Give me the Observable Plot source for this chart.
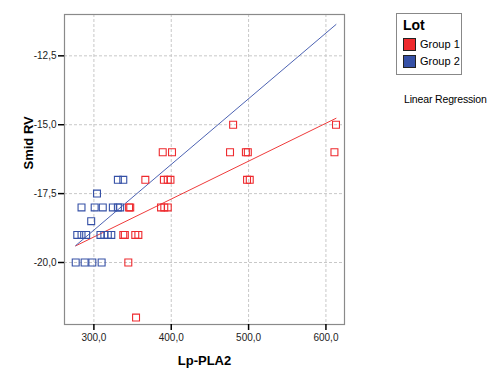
<!DOCTYPE html>
<html>
<head>
<meta charset="utf-8">
<script src="https://cdn.jsdelivr.net/npm/d3@7"></script>
<script src="https://cdn.jsdelivr.net/npm/@observablehq/plot@0.6"></script>
<style>
  html, body { margin: 0; padding: 0; background: #fff; overflow: hidden; width: 490px; height: 374px; }
  #wrap { position: relative; width: 490px; height: 374px; font-family: "Liberation Sans", Arial, sans-serif; }
  #legend { position: absolute; left: 396px; top: 13px; width: 64px; height: 60px; border: 1px solid #888; background: #fff; }
  #legend .title { position: absolute; left: 6px; top: 3px; font-weight: bold; font-size: 14px; color: #000; }
  #legend .item { position: absolute; left: 6px; font-size: 11px; color: #000; height: 13px; line-height: 13px; }
  #legend .sw { display: inline-block; width: 11px; height: 11px; border: 1px solid #222; vertical-align: top; margin-right: 4px; }
  #fitlabel { position: absolute; left: 404px; top: 93px; font-size: 10.5px; letter-spacing: -0.15px; white-space: nowrap; color: #000; }
</style>
</head>
<body>
<div id="wrap">
  <div id="chart"></div>
  <div id="legend"></div>
  <div id="fitlabel"></div>
</div>
<script>
// ---- data ----
const groups = ["Group 1", "Group 2"];
const colors = ["#ee2a2e", "#3550a6"];
const lineColors = ["#ef3b3b", "#4d63b3"];

const group1X = [480, 613, 389, 401, 476, 496.5, 499, 611, 366.5, 390.5, 395.5, 399, 498, 501.5, 345.5, 347, 386.8, 391, 395.5, 338, 340, 353.5, 357.5, 344.5, 354.5];
const group1Y = [-15, -15, -16, -16, -16, -16, -16, -16, -17, -17, -17, -17, -17, -17, -18, -18, -18, -18, -18, -19, -19, -19, -19, -20, -22];

const group2X = [331, 338, 304, 284, 301, 311.5, 324.5, 331, 334, 296.5, 278.5, 284, 290, 308.5, 313.5, 318, 322.5, 276.5, 288, 298, 310];
const group2Y = [-17, -17, -17.5, -18, -18, -18, -18, -18, -18, -18.5, -19, -19, -19, -19, -19, -19, -19, -20, -20, -20, -20];

// linear regression (total) lines as shown in the reference: intercept and slope per group
const fitIntercept = [-23.20, -25.975];
const fitSlope = [0.013757, 0.023836];

const xTicks = [300, 400, 500, 600];
const yTicks = [-12.5, -15, -17.5, -20];
const xLabel = "Lp-PLA2";
const yLabel = "Smid RV";
const legendTitle = "Lot";
const fitText = "Linear Regression";

// ---- build table ----
const points = [
  ...group1X.map((x, i) => ({x, y: group1Y[i], g: groups[0]})),
  ...group2X.map((x, i) => ({x, y: group2Y[i], g: groups[1]}))
];

// fit lines drawn across the full x extent of the data
const [xmin, xmax] = d3.extent(points, d => d.x);
const fitLines = groups.flatMap((g, i) => [xmin, xmax].map(x => ({x, y: fitIntercept[i] + fitSlope[i] * x, g})));

const fmt = v => d3.format(".1f")(v).replace("−", "-").replace(".", ",");

const chart = Plot.plot({
  width: 490,
  height: 374,
  marginLeft: 64,
  marginTop: 14,
  marginRight: 146,
  marginBottom: 50,
  style: {fontFamily: "'Liberation Sans', Arial, sans-serif", fontSize: "10px", color: "#000", background: "#fff"},
  x: {domain: [262, 624], ticks: xTicks, tickFormat: fmt, label: null},
  y: {domain: [-22.25, -11], ticks: yTicks, tickFormat: fmt, label: null},
  color: {domain: groups, range: colors},
  marks: [
    Plot.gridX(xTicks, {stroke: "#c8c8c8", strokeOpacity: 1, strokeDasharray: "3,2"}),
    Plot.gridY(yTicks, {stroke: "#c8c8c8", strokeOpacity: 1, strokeDasharray: "3,2"}),
    Plot.frame({stroke: "#8a8a8a", strokeWidth: 1.2}),
    Plot.axisX(xTicks, {tickFormat: fmt, tickSize: 6, tickPadding: 3, stroke: "#000", strokeWidth: 1.5, fontSize: 10, fill: "#222"}),
    Plot.axisY(yTicks, {tickFormat: fmt, tickSize: 6, tickPadding: 2, stroke: "#000", strokeWidth: 1.5, fontSize: 10, fill: "#222"}),
    Plot.line(fitLines, {x: "x", y: "y", z: "g", stroke: d => lineColors[groups.indexOf(d.g)], strokeWidth: 1}),
    Plot.dot(points, {x: "x", y: "y", symbol: "square", r: 3.9, stroke: "g", strokeWidth: 1.1, fill: "none"}),
    Plot.text([xLabel], {frameAnchor: "bottom", dy: 40, fontWeight: "bold", fontSize: 13}),
    Plot.text([yLabel], {frameAnchor: "left", dx: -36, rotate: -90, fontWeight: "bold", fontSize: 13})
  ]
});
document.getElementById("chart").appendChild(chart);

// legend
const lg = document.getElementById("legend");
lg.innerHTML = `<div class="title">${legendTitle}</div>` + groups.map((g, i) =>
  `<div class="item" style="top:${24 + i * 17}px"><span class="sw" style="background:${colors[i]}"></span>${g}</div>`).join("");
document.getElementById("fitlabel").textContent = fitText;
</script>
</body>
</html>
